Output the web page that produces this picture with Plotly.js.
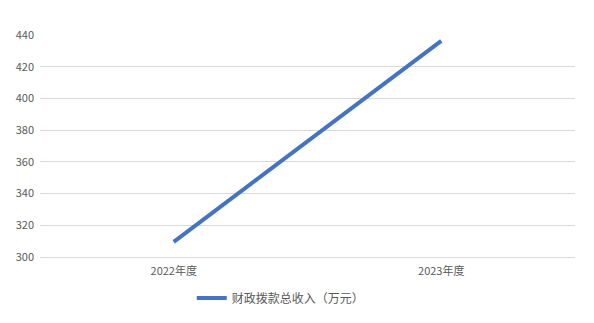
<!DOCTYPE html>
<html><head><meta charset="utf-8">
<script src="https://cdn.plot.ly/plotly-3.0.1.min.js"></script>
<style>body{margin:0;background:#fff}#c{width:594px;height:323px}</style>
</head><body><div id="c"></div>
<script>
var categories = ["2022年度", "2023年度"];
var seriesName = "财政拨款总收入（万元）";
var values = [309.5, 436.3];
var yTicks = [300, 320, 340, 360, 380, 400, 420, 440];

var font = "'Noto Sans CJK SC', 'Liberation Sans', sans-serif";
Plotly.newPlot("c", [{
  x: categories, y: values, type: "scatter", mode: "lines", name: seriesName,
  line: {color: "#4472C4", width: 4}
}], {
  width: 594, height: 323,
  margin: {l: 40, r: 19, t: 35, b: 66, autoexpand: false},
  paper_bgcolor: "#fff", plot_bgcolor: "#fff",
  font: {family: font, size: 11, color: "#595959"},
  xaxis: {type: "category", range: [-0.5, 1.5], showgrid: false, zeroline: false,
    showline: true, linecolor: "#d9d9d9", linewidth: 1, ticks: "", ticklabelstandoff: 4,
    tickfont: {size: 11, color: "#595959"}},
  yaxis: {range: [300, 440], tickvals: yTicks, showgrid: true, gridcolor: "#d9d9d9", gridwidth: 1,
    zeroline: false, showline: false, ticks: "", ticklabelstandoff: 5, tickfont: {size: 11, color: "#595959"}},
  showlegend: true,
  legend: {orientation: "h", x: 0.45, xanchor: "center", y: -0.185, yanchor: "middle",
    itemwidth: 30, font: {size: 12, color: "#595959"}}
}, {displayModeBar: false, staticPlot: true});
</script></body></html>
